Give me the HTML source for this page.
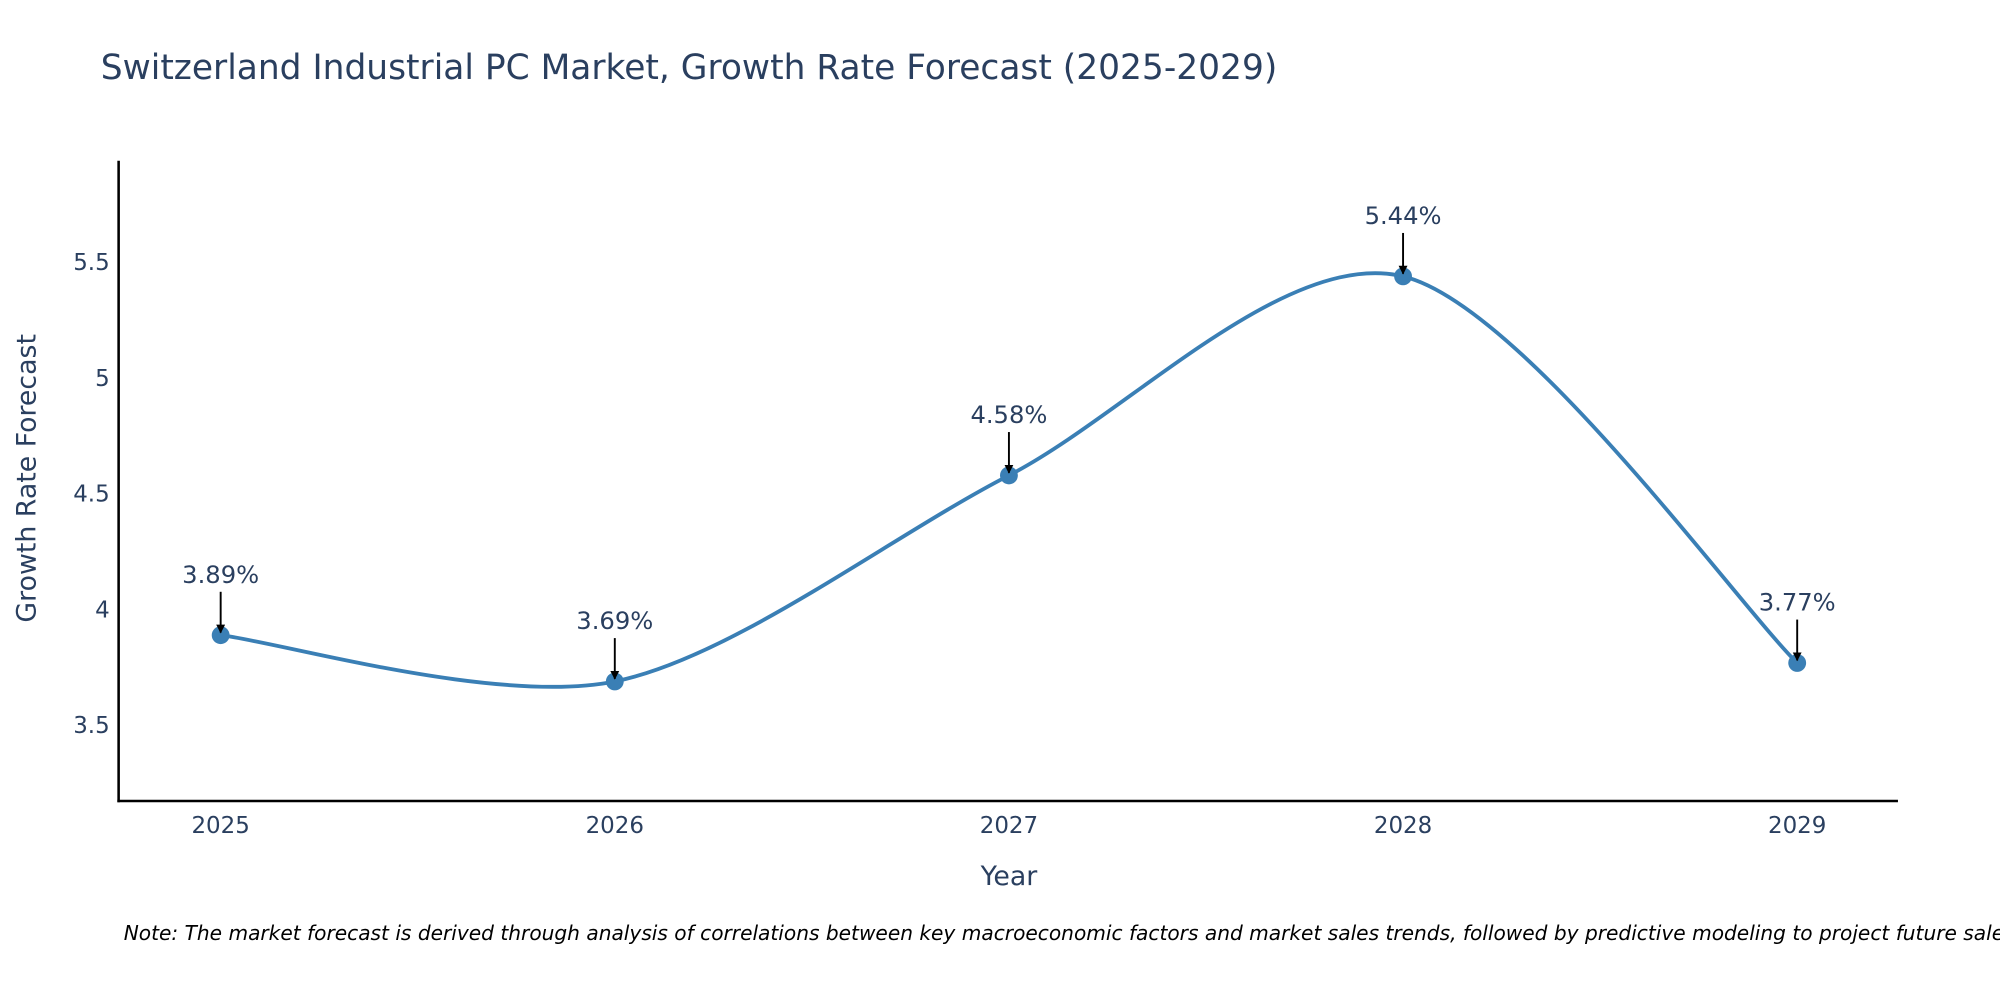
<!DOCTYPE html>
<html><head><meta charset="utf-8"><style>
html,body{margin:0;padding:0;background:#fff;width:2000px;height:1000px;overflow:hidden}
text{font-family:"DejaVu Sans","Liberation Sans",sans-serif;fill:#2a3f5f}
</style></head><body>
<svg id="chart" width="2000" height="1000" viewBox="0 0 1568 784" xmlns="http://www.w3.org/2000/svg">
<defs><marker id="ah" viewBox="0 0 10 10" refX="9" refY="5" markerWidth="7" markerHeight="7" markerUnits="userSpaceOnUse" orient="auto"><path d="M0,0L10,5L0,10z" fill="#000"/></marker></defs>
<text x="79" y="62" font-size="27">Switzerland Industrial PC Market, Growth Rate Forecast (2025-2029)</text>
<g id="yticks"></g><g id="xticks"></g>
<line x1="93" y1="126" x2="93" y2="629" stroke="#000" stroke-width="2"/>
<line x1="92" y1="628" x2="1488" y2="628" stroke="#000" stroke-width="2"/>
<text transform="translate(28,375) rotate(-90)" text-anchor="middle" font-size="21">Growth Rate Forecast</text>
<text x="791" y="694" text-anchor="middle" font-size="21">Year</text>
<g id="series"></g><g id="annos"></g>
<text x="97" y="737" font-size="15.8" font-style="italic" style="fill:#000">Note: The market forecast is derived through analysis of correlations between key macroeconomic factors and market sales trends, followed by predictive modeling to project future sales.</text>
</svg>
<script>
const years = [2025, 2026, 2027, 2028, 2029];
const growth = [3.89, 3.69, 4.58, 5.44, 3.77];
const yTickValues = [3.5, 4, 4.5, 5, 5.5];
const yTickLabels = ["3.5", "4", "4.5", "5", "5.5"];
const NS = "http://www.w3.org/2000/svg";
function xs(v){ return 173 + (v - 2025) * 309; }
function ys(v){ return 478 - (v - 4) * 181.5; }
function mk(tag, attrs, parent){ const e = document.createElementNS(NS, tag); for (const k in attrs) e.setAttribute(k, attrs[k]); parent.appendChild(e); return e; }
const yt = document.getElementById('yticks');
yTickValues.forEach((v, i) => {
  const t = mk('text', {x: 86, y: ys(v) + 6, 'text-anchor': 'end', 'font-size': 18}, yt);
  
  
  t.textContent = yTickLabels[i];
});
const xt = document.getElementById('xticks');
years.forEach(y => {
  const t = mk('text', {x: xs(y), y: 653, 'text-anchor': 'middle', 'font-size': 18}, xt);
  
  
  t.textContent = String(y);
});
const pts = years.map((y, i) => [xs(y), ys(growth[i])]);
let d = 'M' + pts[0][0] + ',' + pts[0][1];
const k = 0.15;
for (let i = 0; i < pts.length - 1; i++) {
  const p0 = pts[Math.max(0, i - 1)], p1 = pts[i], p2 = pts[i + 1], p3 = pts[Math.min(pts.length - 1, i + 2)];
  const c1 = [p1[0] + (p2[0] - p0[0]) * k, p1[1] + (p2[1] - p0[1]) * k];
  const c2 = [p2[0] - (p3[0] - p1[0]) * k, p2[1] - (p3[1] - p1[1]) * k];
  d += ' C' + c1 + ' ' + c2 + ' ' + p2;
}
const s = document.getElementById('series');
const line = mk('path', {d: d, fill: 'none', stroke: '#3a7fb5', 'stroke-width': 3}, s);


const an = document.getElementById('annos');
pts.forEach((p, i) => {
  const c = mk('circle', {cx: p[0], cy: p[1], r: 7, fill: '#3a7fb5'}, s);
  
  
  const a = mk('line', {x1: p[0], y1: p[1] - 34, x2: p[0], y2: p[1] - 2, stroke: '#000', 'stroke-width': 1.5, 'marker-end': 'url(#ah)'}, an);
  
  
  const t = mk('text', {x: p[0], y: p[1] - 41, 'text-anchor': 'middle', 'font-size': 19}, an);
  
  
  t.textContent = growth[i].toFixed(2) + '%';
});
</script>
</body></html>
